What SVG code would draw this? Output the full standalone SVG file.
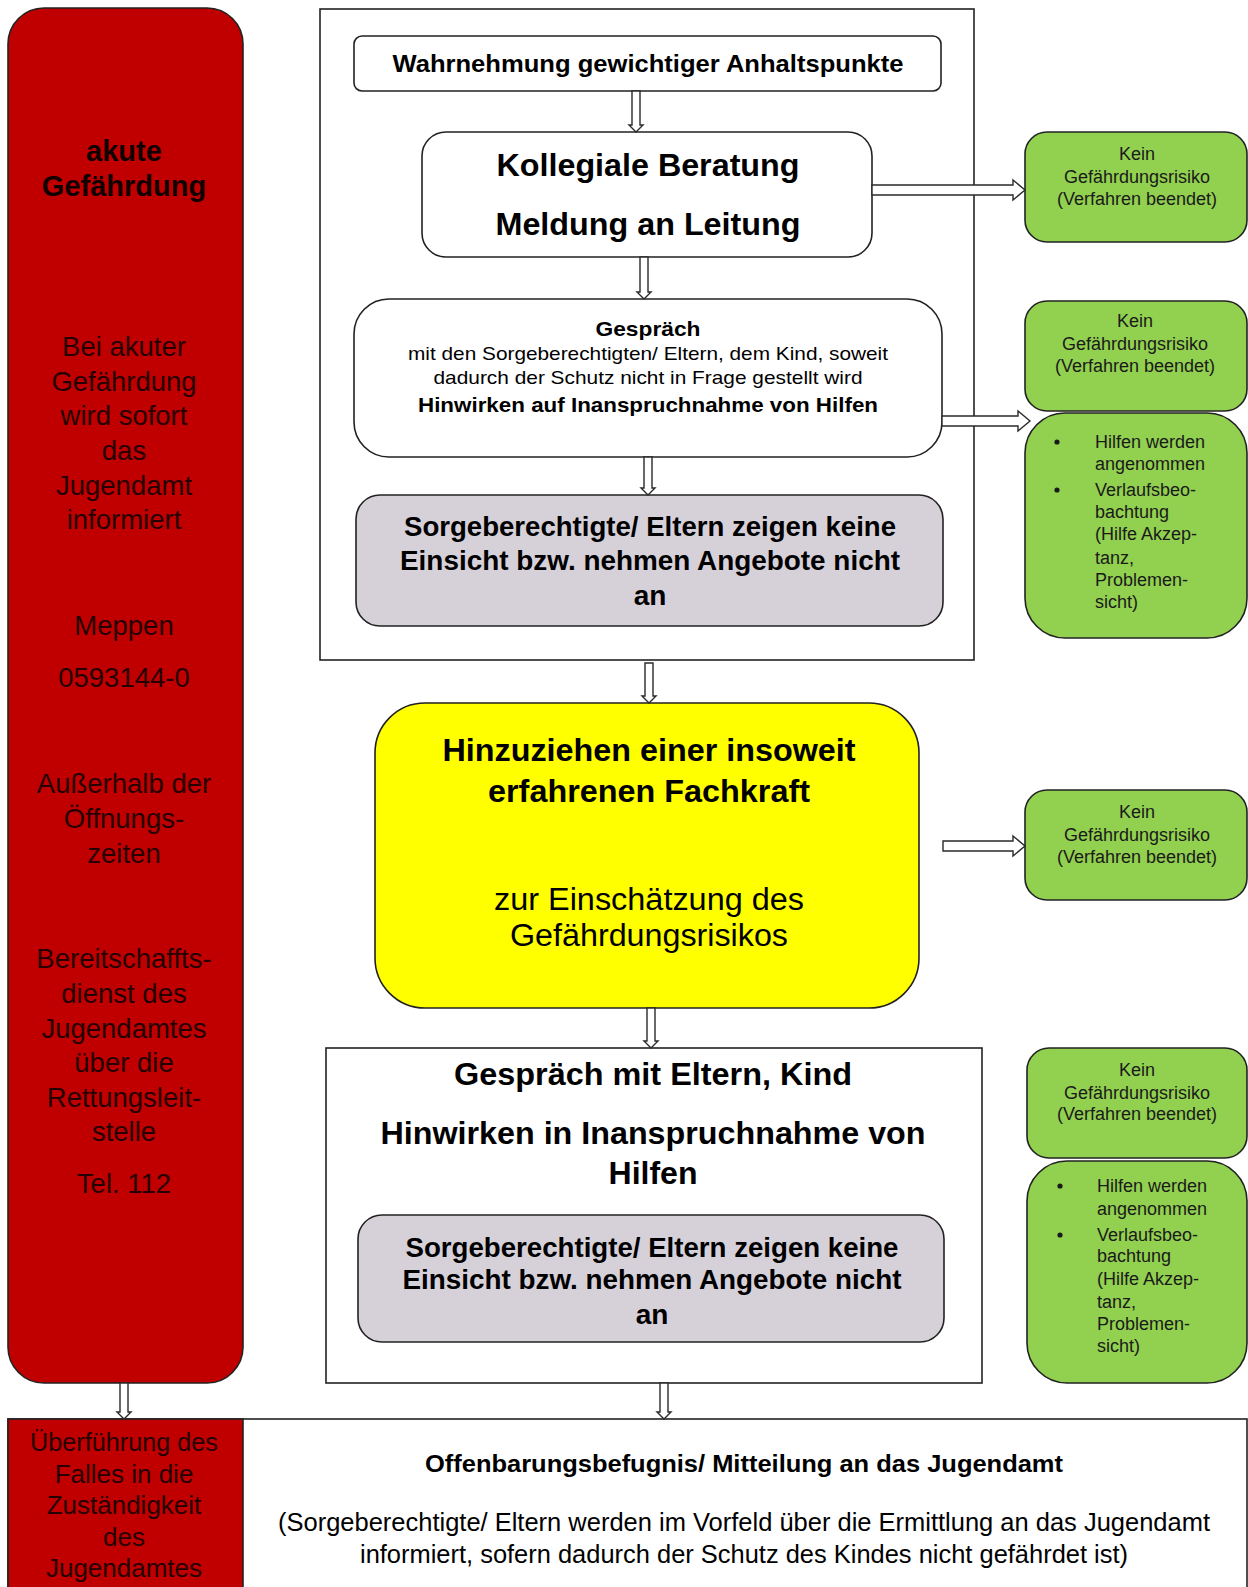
<svg xmlns="http://www.w3.org/2000/svg" width="1248" height="1587" viewBox="0 0 1248 1587">
<style>
text{font-family:"Liberation Sans",Arial,sans-serif;text-anchor:middle;dominant-baseline:central;fill:#000}
.b{font-weight:bold}
.box{stroke:#222;stroke-width:1.6}
.red{fill:#C00000}
.rt{fill:#260000;font-size:27.5px}
.grn{fill:#92D050}
.gt{font-size:18px;fill:#1a1a1a}
.gl{font-size:18px;fill:#1a1a1a;text-anchor:start}
.grey{fill:#D6D0D8}
.wht{fill:#fff}
.arr{fill:#fff;stroke:#2a2a2a;stroke-width:1.4}
</style>
<rect width="1248" height="1587" fill="#fff"/>

<g id="container"><rect class="box wht" x="320" y="9" width="654" height="651"/></g>

<g id="akute">
<rect class="box red" x="8" y="8" width="235" height="1375" rx="36"/>
<text x="124" y="151" class="b" style="font-size:29px;fill:#100000">akute</text>
<text x="124" y="186" class="b" style="font-size:29px;fill:#100000">Gefährdung</text>
<text x="124" y="346" class="rt">Bei akuter</text>
<text x="124" y="381" class="rt">Gefährdung</text>
<text x="124" y="415" class="rt">wird sofort</text>
<text x="124" y="450" class="rt">das</text>
<text x="124" y="485" class="rt">Jugendamt</text>
<text x="124" y="519" class="rt">informiert</text>
<text x="124" y="625" class="rt">Meppen</text>
<text x="124" y="677" class="rt">0593144-0</text>
<text x="124" y="783" class="rt">Außerhalb der</text>
<text x="124" y="818" class="rt">Öffnungs-</text>
<text x="124" y="853" class="rt">zeiten</text>
<text x="124" y="958" class="rt">Bereitschaffts-</text>
<text x="124" y="993" class="rt">dienst des</text>
<text x="124" y="1028" class="rt">Jugendamtes</text>
<text x="124" y="1062" class="rt">über die</text>
<text x="124" y="1097" class="rt">Rettungsleit-</text>
<text x="124" y="1131" class="rt">stelle</text>
<text x="124" y="1183" class="rt">Tel. 112</text>
</g>

<g id="wahrnehmung">
<rect class="box wht" x="354" y="36" width="587" height="55" rx="8"/>
<text x="648" y="63" class="b" style="font-size:24px" textLength="511" lengthAdjust="spacingAndGlyphs">Wahrnehmung gewichtiger Anhaltspunkte</text>
</g>

<g id="kollegiale">
<rect class="box wht" x="422" y="132" width="450" height="125" rx="24"/>
<text x="648" y="165" class="b" style="font-size:31px" textLength="303" lengthAdjust="spacingAndGlyphs">Kollegiale Beratung</text>
<text x="648" y="224" class="b" style="font-size:31px" textLength="305" lengthAdjust="spacingAndGlyphs">Meldung an Leitung</text>
</g>

<g id="gespraech1">
<rect class="box wht" x="354" y="299" width="588" height="158" rx="35"/>
<text x="648" y="328" class="b" style="font-size:21px" textLength="105" lengthAdjust="spacingAndGlyphs">Gespräch</text>
<text x="648" y="353" style="font-size:19px" textLength="480" lengthAdjust="spacingAndGlyphs">mit den Sorgeberechtigten/ Eltern, dem Kind, soweit</text>
<text x="648" y="377" style="font-size:19px" textLength="429" lengthAdjust="spacingAndGlyphs">dadurch der Schutz nicht in Frage gestellt wird</text>
<text x="648" y="404" class="b" style="font-size:21px" textLength="460" lengthAdjust="spacingAndGlyphs">Hinwirken auf Inanspruchnahme von Hilfen</text>
</g>

<g id="keineEinsicht1">
<rect class="box grey" x="356" y="495" width="587" height="131" rx="24"/>
<text x="650" y="526" class="b" style="font-size:28px" textLength="492" lengthAdjust="spacingAndGlyphs">Sorgeberechtigte/ Eltern zeigen keine</text>
<text x="650" y="560" class="b" style="font-size:28px" textLength="500" lengthAdjust="spacingAndGlyphs">Einsicht bzw. nehmen Angebote nicht</text>
<text x="650" y="595" class="b" style="font-size:28px">an</text>
</g>

<g id="fachkraft">
<rect class="box" fill="#FFFF00" x="375" y="703" width="544" height="305" rx="50"/>
<text x="649" y="750" class="b" style="font-size:32px" textLength="413" lengthAdjust="spacingAndGlyphs">Hinzuziehen einer insoweit</text>
<text x="649" y="791" class="b" style="font-size:32px" textLength="322" lengthAdjust="spacingAndGlyphs">erfahrenen Fachkraft</text>
<text x="649" y="899" style="font-size:31px" textLength="310" lengthAdjust="spacingAndGlyphs">zur Einschätzung des</text>
<text x="649" y="935" style="font-size:31px" textLength="278" lengthAdjust="spacingAndGlyphs">Gefährdungsrisikos</text>
</g>

<g id="gespraech2">
<rect class="box wht" x="326" y="1048" width="656" height="335"/>
<text x="653" y="1074" class="b" style="font-size:31px" textLength="398" lengthAdjust="spacingAndGlyphs">Gespräch mit Eltern, Kind</text>
<text x="653" y="1133" class="b" style="font-size:31px" textLength="545" lengthAdjust="spacingAndGlyphs">Hinwirken in Inanspruchnahme von</text>
<text x="653" y="1173" class="b" style="font-size:31px" textLength="89" lengthAdjust="spacingAndGlyphs">Hilfen</text>
</g>

<g id="keineEinsicht2">
<rect class="box grey" x="358" y="1215" width="586" height="127" rx="24"/>
<text x="652" y="1247" class="b" style="font-size:28px" textLength="493" lengthAdjust="spacingAndGlyphs">Sorgeberechtigte/ Eltern zeigen keine</text>
<text x="652" y="1279" class="b" style="font-size:28px" textLength="499" lengthAdjust="spacingAndGlyphs">Einsicht bzw. nehmen Angebote nicht</text>
<text x="652" y="1314" class="b" style="font-size:28px">an</text>
</g>

<g id="kein1">
<rect class="box grn" x="1025" y="132" width="222" height="110" rx="22"/>
<text x="1137" y="154" class="gt">Kein</text>
<text x="1137" y="177" class="gt">Gefährdungsrisiko</text>
<text x="1137" y="199" class="gt">(Verfahren beendet)</text>
</g>

<g id="kein2">
<rect class="box grn" x="1025" y="301" width="222" height="110" rx="22"/>
<text x="1135" y="321" class="gt">Kein</text>
<text x="1135" y="344" class="gt">Gefährdungsrisiko</text>
<text x="1135" y="366" class="gt">(Verfahren beendet)</text>
</g>

<g id="hilfen1">
<rect class="box grn" x="1025" y="413" width="222" height="225" rx="40"/>
<circle cx="1057" cy="442" r="2.6" fill="#1a1a1a"/>
<circle cx="1057" cy="490" r="2.6" fill="#1a1a1a"/>
<text x="1095" y="442" class="gl">Hilfen werden</text>
<text x="1095" y="464" class="gl">angenommen</text>
<text x="1095" y="490" class="gl">Verlaufsbeo-</text>
<text x="1095" y="512" class="gl">bachtung</text>
<text x="1095" y="534" class="gl">(Hilfe Akzep-</text>
<text x="1095" y="558" class="gl">tanz,</text>
<text x="1095" y="580" class="gl">Problemen-</text>
<text x="1095" y="602" class="gl">sicht)</text>
</g>

<g id="kein3">
<rect class="box grn" x="1025" y="790" width="222" height="110" rx="22"/>
<text x="1137" y="812" class="gt">Kein</text>
<text x="1137" y="835" class="gt">Gefährdungsrisiko</text>
<text x="1137" y="857" class="gt">(Verfahren beendet)</text>
</g>

<g id="kein4">
<rect class="box grn" x="1027" y="1048" width="220" height="110" rx="22"/>
<text x="1137" y="1070" class="gt">Kein</text>
<text x="1137" y="1093" class="gt">Gefährdungsrisiko</text>
<text x="1137" y="1114" class="gt">(Verfahren beendet)</text>
</g>

<g id="hilfen2">
<rect class="box grn" x="1027" y="1161" width="220" height="222" rx="40"/>
<circle cx="1060" cy="1186" r="2.6" fill="#1a1a1a"/>
<circle cx="1060" cy="1235" r="2.6" fill="#1a1a1a"/>
<text x="1097" y="1186" class="gl">Hilfen werden</text>
<text x="1097" y="1209" class="gl">angenommen</text>
<text x="1097" y="1235" class="gl">Verlaufsbeo-</text>
<text x="1097" y="1256" class="gl">bachtung</text>
<text x="1097" y="1279" class="gl">(Hilfe Akzep-</text>
<text x="1097" y="1302" class="gl">tanz,</text>
<text x="1097" y="1324" class="gl">Problemen-</text>
<text x="1097" y="1346" class="gl">sicht)</text>
</g>

<g id="offenbarung">
<rect class="box wht" x="8" y="1419" width="1239" height="190"/>
<text x="744" y="1464" class="b" style="font-size:23px" textLength="638" lengthAdjust="spacingAndGlyphs">Offenbarungsbefugnis/ Mitteilung an das Jugendamt</text>
<text x="744" y="1522" style="font-size:25px" textLength="932" lengthAdjust="spacingAndGlyphs">(Sorgeberechtigte/ Eltern werden im Vorfeld über die Ermittlung an das Jugendamt</text>
<text x="744" y="1554" style="font-size:25px" textLength="768" lengthAdjust="spacingAndGlyphs">informiert, sofern dadurch der Schutz des Kindes nicht gefährdet ist)</text>
</g>

<g id="ueberfuehrung">
<rect class="box red" x="8" y="1419" width="235" height="190"/>
<text x="124" y="1442" class="rt" style="font-size:26px" textLength="188" lengthAdjust="spacingAndGlyphs">Überführung des</text>
<text x="124" y="1474" class="rt" style="font-size:26px">Falles in die</text>
<text x="124" y="1505" class="rt" style="font-size:26px">Zuständigkeit</text>
<text x="124" y="1537" class="rt" style="font-size:26px">des</text>
<text x="124" y="1568" class="rt" style="font-size:26px">Jugendamtes</text>
</g>

<g id="connectors">
<path class="arr" d="M632,91 V125 H629 L636,132 L643,125 H640 V91 Z"/>
<path class="arr" d="M640,257 V292 H637 L644,299 L651,292 H648 V257 Z"/>
<path class="arr" d="M644,457 V488 H641 L648,495 L655,488 H652 V457 Z"/>
<path class="arr" d="M645,663 V696 H642 L649,703 L656,696 H653 V663 Z"/>
<path class="arr" d="M647,1008 V1041 H644 L651,1048 L658,1041 H655 V1008 Z"/>
<path class="arr" d="M120,1383 V1412 H117 L124,1419 L131,1412 H128 V1383 Z"/>
<path class="arr" d="M660,1383 V1412 H657 L664,1419 L671,1412 H668 V1383 Z"/>
<path class="arr" d="M872,185 H1013 V180 L1025,190 L1013,200 V195 H872 Z"/>
<path class="arr" d="M942,416 H1018 V411 L1030,421 L1018,431 V426 H942 Z"/>
<path class="arr" d="M943,841 H1013 V836 L1025,846 L1013,856 V851 H943 Z"/>
</g>
</svg>
